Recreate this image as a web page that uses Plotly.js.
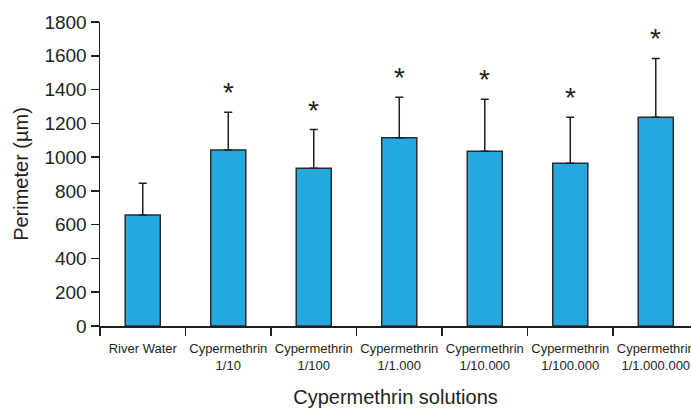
<!DOCTYPE html>
<html>
<head>
<meta charset="utf-8">
<script src="https://cdn.plot.ly/plotly-3.0.1.min.js"></script>
<style>html,body{margin:0;padding:0;background:#fff;}#chart{width:691px;height:409px;}</style>
</head>
<body>
<div id="chart"></div>
<script>
const categories = ["River Water", "Cypermethrin<br>1/10", "Cypermethrin<br>1/100", "Cypermethrin<br>1/1.000", "Cypermethrin<br>1/10.000", "Cypermethrin<br>1/100.000", "Cypermethrin<br>1/1.000.000"];
const perimeter = [657, 1042, 934, 1114, 1035, 963, 1236];
const errorUp = [188, 224, 229, 241, 308, 273, 348];
const significant = [false, true, true, true, true, true, true];
const yTicks = [0, 200, 400, 600, 800, 1000, 1200, 1400, 1600, 1800];

const dark = "#231f20";

const trace = {
  type: "bar",
  x: categories,
  y: perimeter,
  marker: { color: "#24a8e0", line: { color: "#2b2b2b", width: 1.5 } },
  error_y: { type: "data", array: errorUp, arrayminus: perimeter.map(() => 0), symmetric: false, color: dark, thickness: 1.5, width: 4 },
  hoverinfo: "none"
};

const annotations = categories.map((c, i) => significant[i] ? {
  x: c, y: perimeter[i] + errorUp[i], xref: "x", yref: "y",
  text: "*", showarrow: false, yanchor: "bottom", yshift: 2,
  font: { family: "Liberation Sans, Arial, sans-serif", size: 28, color: dark }
} : null).filter(a => a);

const layout = {
  width: 691, height: 409,
  margin: { l: 100, r: 0, t: 22, b: 83 },
  paper_bgcolor: "#fff", plot_bgcolor: "#fff",
  showlegend: false,
  bargap: 0.59,
  font: { family: "Liberation Sans, Arial, sans-serif", color: dark },
  xaxis: {
    type: "category",
    range: [-0.5, 6.412],
    tickson: "boundaries",
    tickangle: 0,
    ticklabelstandoff: 10,
    ticks: "outside", ticklen: 8, tickwidth: 1.5, tickcolor: dark,
    showline: true, linecolor: dark, linewidth: 1.5,
    showgrid: false, zeroline: false,
    tickfont: { family: "Liberation Sans Narrow, Arial Narrow, Liberation Sans, sans-serif", size: 13, color: dark },
    title: { text: "Cypermethrin solutions", font: { size: 20, color: dark }, standoff: 18 }
  },
  yaxis: {
    range: [0, 1800],
    tickvals: yTicks,
    ticktext: yTicks.map(String),
    ticks: "outside", ticklen: 8, tickwidth: 1.5, tickcolor: dark,
    showline: true, linecolor: dark, linewidth: 1.5,
    showgrid: false, zeroline: false,
    tickfont: { size: 19, color: dark },
    title: { text: "Perimeter (µm)", font: { size: 20, color: dark }, standoff: 10 }
  },
  annotations: annotations
};

Plotly.newPlot("chart", [trace], layout, { displayModeBar: false, staticPlot: true });
</script>
</body>
</html>
